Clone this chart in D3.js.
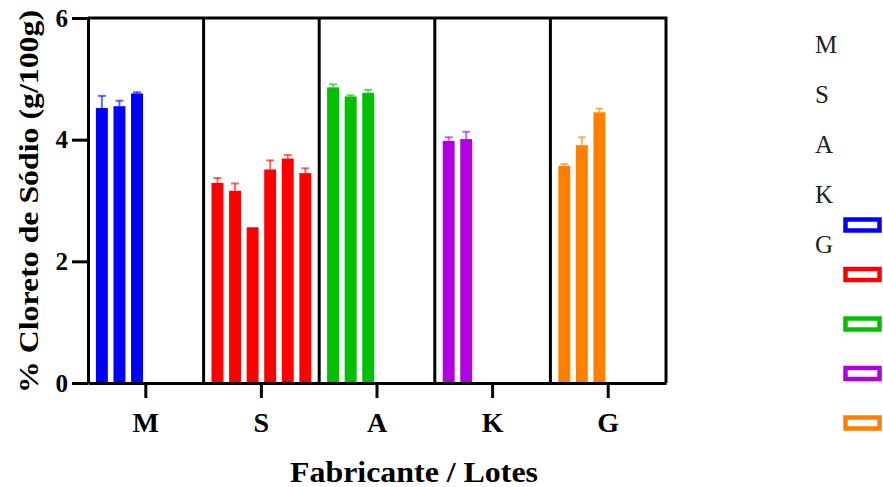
<!DOCTYPE html>
<html>
<head>
<meta charset="utf-8">
<script src="https://cdn.jsdelivr.net/npm/d3@7"></script>
<style>
  body { margin: 0; background: #fff; }
  svg text { font-family: "Liberation Serif", "Times New Roman", serif; }
</style>
</head>
<body>
<div id="chart"></div>
<script>
// Manufacturers and their colours
const manufacturers = ["M", "S", "A", "K", "G"];
const colors = ["#0000ff", "#ff0000", "#00c000", "#b000e0", "#ff8000"];

// Mean NaCl per lot (g/100g)
const meansM = [4.52, 4.55, 4.76];
const meansS = [3.29, 3.16, 2.56, 3.51, 3.69, 3.45];
const meansA = [4.86, 4.71, 4.77];
const meansK = [3.98, 4.01];
const meansG = [3.57, 3.91, 4.45];

// Upper error (SD) per lot
const errM = [0.20, 0.09, 0.02];
const errS = [0.08, 0.12, 0.00, 0.15, 0.06, 0.08];
const errA = [0.05, 0.02, 0.05];
const errK = [0.06, 0.12];
const errG = [0.03, 0.13, 0.06];

const yTicks = [0, 2, 4, 6];
const maxLots = 6;

const means = [meansM, meansS, meansA, meansK, meansG];
const errs = [errM, errS, errA, errK, errG];

const width = 883, height = 487;
const margin = { left: 88, right: 217, top: 18, bottom: 104 };

const svg = d3.select("#chart").append("svg")
    .attr("width", width)
    .attr("height", height);

const x = d3.scaleBand()
    .domain(manufacturers)
    .range([margin.left, width - margin.right])
    .padding(0);

const lot = d3.scaleBand()
    .domain(d3.range(maxLots))
    .range([0, x.bandwidth()])
    .paddingInner(0.32)
    .paddingOuter(0.45);

const y = d3.scaleLinear()
    .domain([0, 6])
    .range([height - margin.bottom, margin.top]);

// flatten into bar records
const bars = [];
manufacturers.forEach((m, i) => {
    means[i].forEach((v, j) => {
        bars.push({ m: m, lot: j, value: v, err: errs[i][j], color: colors[i] });
    });
});

// bars
svg.append("g").selectAll("rect")
    .data(bars)
    .enter()
    .append("rect")
    .attr("x", d => x(d.m) + lot(d.lot))
    .attr("y", d => y(d.value))
    .attr("width", lot.bandwidth())
    .attr("height", d => y(0) - y(d.value))
    .attr("fill", d => d.color);

// error bars (upper only)
const eb = svg.append("g").selectAll("g")
    .data(bars.filter(d => d.err > 0))
    .enter()
    .append("g")
    .attr("stroke", d => d.color)
    .attr("stroke-opacity", 0.6)
    .attr("stroke-width", 2);

eb.append("line")
    .attr("x1", d => x(d.m) + lot(d.lot) + lot.bandwidth() / 2)
    .attr("x2", d => x(d.m) + lot(d.lot) + lot.bandwidth() / 2)
    .attr("y1", d => y(d.value))
    .attr("y2", d => y(d.value + d.err));

eb.append("line")
    .attr("x1", d => x(d.m) + lot(d.lot) + lot.bandwidth() / 2 - 4)
    .attr("x2", d => x(d.m) + lot(d.lot) + lot.bandwidth() / 2 + 4)
    .attr("y1", d => y(d.value + d.err))
    .attr("y2", d => y(d.value + d.err));

// group dividers
svg.append("g").selectAll("line")
    .data(manufacturers.slice(1))
    .enter()
    .append("line")
    .attr("x1", d => x(d))
    .attr("x2", d => x(d))
    .attr("y1", y(6))
    .attr("y2", y(0))
    .attr("stroke", "#000")
    .attr("stroke-width", 3);

// frame top and right
svg.append("path")
    .attr("d", `M${x.range()[0]},${y(6)}H${x.range()[1]}V${y(0)}`)
    .attr("fill", "none")
    .attr("stroke", "#000")
    .attr("stroke-width", 3);

// y axis
const yAxis = svg.append("g")
    .attr("transform", `translate(${margin.left},0)`)
    .call(d3.axisLeft(y).tickValues(yTicks).tickFormat(d3.format("d"))
        .tickSize(16).tickPadding(4).tickSizeOuter(0));
yAxis.attr("font-family", null);
yAxis.select(".domain").attr("stroke-width", 3);
yAxis.selectAll(".tick line").attr("stroke-width", 3);
yAxis.selectAll(".tick text")
    .attr("font-size", 25)
    .attr("font-weight", "bold")
    .attr("fill", "#000");

// x axis
const xAxis = svg.append("g")
    .attr("transform", `translate(0,${y(0)})`)
    .call(d3.axisBottom(x).tickSize(15).tickPadding(14).tickSizeOuter(0));
xAxis.attr("font-family", null);
xAxis.select(".domain").attr("stroke-width", 3);
xAxis.selectAll(".tick line").attr("stroke-width", 3);
xAxis.selectAll(".tick text")
    .attr("font-size", 28)
    .attr("font-weight", "bold")
    .attr("fill", "#000");

// axis titles
svg.append("text")
    .attr("x", 414)
    .attr("y", 482)
    .attr("text-anchor", "middle")
    .attr("font-size", 30)
    .attr("font-weight", "bold")
    .attr("textLength", 248)
    .attr("lengthAdjust", "spacingAndGlyphs")
    .text("Fabricante / Lotes");

svg.append("text")
    .attr("transform", `translate(38,${(10 + 393) / 2}) rotate(-90)`)
    .attr("text-anchor", "middle")
    .attr("font-size", 27)
    .attr("font-weight", "bold")
    .attr("textLength", 383)
    .attr("lengthAdjust", "spacingAndGlyphs")
    .text("% Cloreto de Sódio (g/100g)");

// legend: labels and swatches are offset from each other
const legend = svg.append("g");
legend.selectAll("text")
    .data(manufacturers)
    .enter()
    .append("text")
    .attr("x", 815)
    .attr("y", (d, i) => 53 + i * 50)
    .attr("font-size", 25)
    .attr("fill", "#222")
    .text(d => d);

legend.selectAll("rect")
    .data(colors)
    .enter()
    .append("rect")
    .attr("x", 845.5)
    .attr("y", (d, i) => 219.5 + i * 49.5)
    .attr("width", 34)
    .attr("height", 11)
    .attr("fill", "#fff")
    .attr("stroke", d => d)
    .attr("stroke-width", 4.5);
</script>
</body>
</html>
